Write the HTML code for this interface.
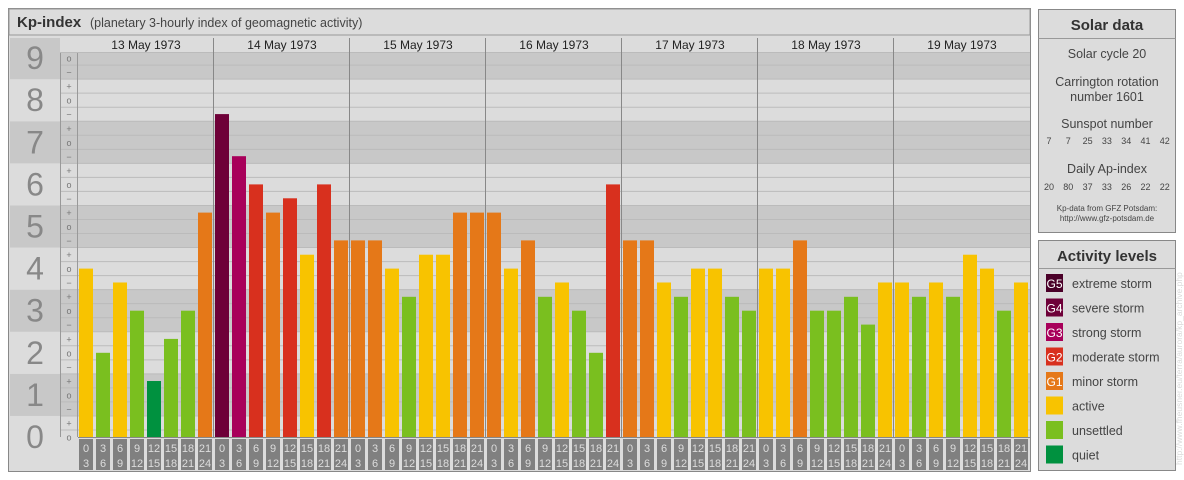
<!DOCTYPE html>
<html><head><meta charset="utf-8"><style>
body{margin:0;background:#fff;}
svg{display:block;font-family:"Liberation Sans",sans-serif;}
</style></head><body>
<svg id="chart" width="1184" height="480" viewBox="0 0 1184 480" xmlns="http://www.w3.org/2000/svg">
<rect x="0" y="0" width="1184" height="480" fill="#ffffff"/>
<g>
  <rect x="8.5" y="8.5" width="1022" height="463" fill="#dcdcdc" stroke="#888"/>
  <rect x="9" y="9" width="1021" height="26" fill="#dcdcdc" stroke="#999" stroke-width="1"/>
  <text x="17" y="27" font-size="15" font-weight="bold" fill="#333">Kp-index</text>
  <text x="90" y="27" font-size="12.5" fill="#444">(planetary 3-hourly index of geomagnetic activity)</text>
</g>
<g id="bands"></g>
<g id="grid"></g>
<g id="bars"></g>
<g id="hours"></g>
<g id="axis"></g>
<g>
  <rect x="1038.5" y="9.5" width="137" height="223" fill="#dcdcdc" stroke="#888"/>
  <line x1="1038.5" y1="38.5" x2="1175.5" y2="38.5" stroke="#999"/>
  <text x="1107" y="30" font-size="15" font-weight="bold" fill="#333" text-anchor="middle">Solar data</text>
  <g font-size="12.5" fill="#444" text-anchor="middle">
    <text x="1107" y="58">Solar cycle 20</text>
    <text x="1107" y="86">Carrington rotation</text>
    <text x="1107" y="101">number 1601</text>
    <text x="1107" y="128">Sunspot number</text>
    <text x="1107" y="173">Daily Ap-index</text>
  </g>
  <g id="ssn" font-size="9" fill="#444" text-anchor="middle"></g>
  <g id="apx" font-size="9" fill="#444" text-anchor="middle"></g>
  <text x="1107" y="211" font-size="8" fill="#444" text-anchor="middle">Kp-data from GFZ Potsdam:</text>
  <text x="1107" y="221" font-size="8" fill="#444" text-anchor="middle">http://www.gfz-potsdam.de</text>
</g>
<g>
  <rect x="1038.5" y="240.5" width="137" height="230" fill="#dcdcdc" stroke="#888"/>
  <line x1="1038.5" y1="268.5" x2="1175.5" y2="268.5" stroke="#999"/>
  <text x="1107" y="261" font-size="15" font-weight="bold" fill="#333" text-anchor="middle">Activity levels</text>
  <g id="legend"></g>
</g>
<text transform="translate(1182,465) rotate(-90)" font-size="8.5" fill="#dadada">http://www.fheusner.eu/terra/aurora/kp_archive.php</text>
</svg>
<script>
const days = ["13 May 1973","14 May 1973","15 May 1973","16 May 1973","17 May 1973","18 May 1973","19 May 1973"];
// Kp values in thirds (e.g. 4.33 = 4+, 3.67 = 4-)
const kp13 = [4, 2, 3.67, 3, 1.33, 2.33, 3, 5.33];
const kp14 = [7.67, 6.67, 6, 5.33, 5.67, 4.33, 6, 4.67];
const kp15 = [4.67, 4.67, 4, 3.33, 4.33, 4.33, 5.33, 5.33];
const kp16 = [5.33, 4, 4.67, 3.33, 3.67, 3, 2, 6];
const kp17 = [4.67, 4.67, 3.67, 3.33, 4, 4, 3.33, 3];
const kp18 = [4, 4, 4.67, 3, 3, 3.33, 2.67, 3.67];
const kp19 = [3.67, 3.33, 3.67, 3.33, 4.33, 4, 3, 3.67];
const sunspots = [7, 7, 25, 33, 34, 41, 42];
const apIndex = [20, 80, 37, 33, 26, 22, 22];
const hourStarts = ["0","3","6","9","12","15","18","21"];
const hourEnds = ["3","6","9","12","15","18","21","24"];
const kpTicks = [0,1,2,3,4,5,6,7,8,9];

const NS="http://www.w3.org/2000/svg";
const PX0=78, DAYW=136, SLOT=17, Y0=437, UNIT=42.1, PTOP=38;
const yS=v=>Y0-v*UNIT;
const xDay=d=>PX0+d*DAYW;
function mk(tag,attrs,parent){const e=document.createElementNS(NS,tag);for(const k in attrs)e.setAttribute(k,attrs[k]);parent.appendChild(e);return e;}
const gB=document.getElementById('bands'),gG=document.getElementById('grid'),gBar=document.getElementById('bars'),gH=document.getElementById('hours'),gA=document.getElementById('axis');
const allKp=[kp13,kp14,kp15,kp16,kp17,kp18,kp19];

kpTicks.forEach(k=>{
  const top=Math.max(PTOP,yS(k+0.5)), bot=Math.min(Y0+1,yS(k-0.5));
  const r=mk('rect',{x:10,y:top,width:PX0+7*DAYW-10,height:bot-top,fill:k%2?'#c8c8c8':'#dcdcdc'},gB);
  
  
  const t=mk('text',{x:35,y:yS(k)+11,'font-size':32,fill:'#888','text-anchor':'middle'},gA);
  t.textContent=k;
  
  
});
for(let i=0;i<=27;i++){
  const v=i/3;
  if(v>0.01){const ly=yS(v-1/6);mk('line',{x1:60,x2:PX0+7*DAYW,y1:ly,y2:ly,stroke:'#bbb','stroke-width':1},gG);}
  const sym=['o','+','−'][i%3];
  const t=mk('text',{x:69,y:yS(v)+3.5,'font-size':9,fill:'#777','text-anchor':'middle'},gA);
  t.textContent=sym;
  
  
}
mk('line',{x1:60.5,x2:60.5,y1:PTOP,y2:470,stroke:'#999'},gG);
mk('line',{x1:PX0-0.5,x2:PX0-0.5,y1:PTOP,y2:470,stroke:'#999'},gG);
mk('rect',{x:60,y:PTOP,width:PX0+7*DAYW-60,height:14,fill:'#dcdcdc'},gG);
mk('line',{x1:60,x2:PX0+7*DAYW,y1:PTOP+14.5,y2:PTOP+14.5,stroke:'#bbb'},gG);
days.forEach((d,i)=>{
  const t=mk('text',{x:xDay(i)+DAYW/2,y:PTOP+11,'font-size':12,fill:'#222','text-anchor':'middle'},gG);
  t.textContent=d;
  
  
  if(i>0){mk('line',{x1:xDay(i)-0.5,x2:xDay(i)-0.5,y1:PTOP,y2:470,stroke:'#888'},gG);}
});
mk('rect',{x:10,y:Y0,width:PX0+7*DAYW-10,height:34,fill:'#dcdcdc'},gG);
mk('line',{x1:PX0,x2:PX0+7*DAYW,y1:Y0+0.5,y2:Y0+0.5,stroke:'#888'},gG);

function color(v){
  const k=Math.round(v);
  if(k>=9)return '#4a0028';
  if(k>=8)return '#6e0038';
  if(k>=7)return '#a8005a';
  if(k>=6)return '#d8301e';
  if(k>=5)return '#e57818';
  if(k>=4)return '#f8c300';
  if(k>=2)return '#7abf1f';
  return '#00913f';
}
allKp.forEach((arr,d)=>{
  arr.forEach((v,j)=>{
    const x=xDay(d)+j*SLOT+1;
    const r=mk('rect',{x:x,y:yS(v),width:14,height:Y0-yS(v),fill:color(v)},gBar);
    
    
    const hb=mk('rect',{x:x,y:Y0+2,width:14,height:31,fill:'#808080'},gH);
    
    
    const t1=mk('text',{x:x+7,y:Y0+15,'font-size':11,fill:'#ddd','text-anchor':'middle'},gH);t1.textContent=hourStarts[j];
    const t2=mk('text',{x:x+7,y:Y0+30,'font-size':11,fill:'#ddd','text-anchor':'middle'},gH);t2.textContent=hourEnds[j];
  });
});
const gs=document.getElementById('ssn'),ga=document.getElementById('apx');
sunspots.forEach((s,i)=>{const t=mk('text',{x:1049+i*19.3,y:144},gs);t.textContent=s;});
apIndex.forEach((s,i)=>{const t=mk('text',{x:1049+i*19.3,y:190},ga);t.textContent=s;});
const lg=document.getElementById('legend');
const levels=[["G5","extreme storm","#4a0028"],["G4","severe storm","#6e0038"],["G3","strong storm","#a8005a"],["G2","moderate storm","#d8301e"],["G1","minor storm","#e57818"],["","active","#f8c300"],["","unsettled","#7abf1f"],["","quiet","#00913f"]];
levels.forEach((l,i)=>{
  const y=274+i*24.5;
  const r=mk('rect',{x:1046,y:y,width:17,height:18,fill:l[2]},lg);
  
  
  if(l[0]){const t=mk('text',{x:1054.5,y:y+14,'font-size':12,fill:'#fff','text-anchor':'middle'},lg);t.textContent=l[0];}
  const t=mk('text',{x:1072,y:y+14,'font-size':12.5,fill:'#444'},lg);t.textContent=l[1];
  
  
});
</script>
</body></html>
